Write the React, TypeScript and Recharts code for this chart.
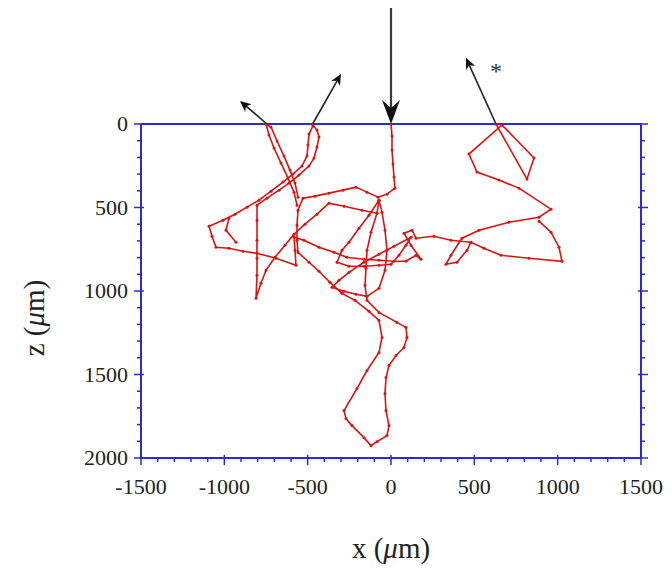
import React from 'react';
import { ScatterChart, Scatter, XAxis, YAxis, ReferenceLine, ReferenceDot, Label } from 'recharts';

// ---- data (x, z in µm) ----
const trackCenter = [
  { x: 0, z: 0 }, { x: 6, z: 72 }, { x: 6, z: 156 }, { x: 12, z: 240 }, { x: 18, z: 318 }, { x: 24, z: 384 },
  { x: -24, z: 420 }, { x: -78, z: 438 }, { x: -144, z: 408 }, { x: -210, z: 378 }, { x: -288, z: 396 },
  { x: -372, z: 414 }, { x: -456, z: 432 }, { x: -528, z: 444 }, { x: -558, z: 516 }, { x: -564, z: 606 },
  { x: -564, z: 696 }, { x: -558, z: 768 }, { x: -492, z: 828 }, { x: -432, z: 882 }, { x: -366, z: 948 },
  { x: -294, z: 1014 }, { x: -216, z: 1056 }, { x: -132, z: 1122 }, { x: -72, z: 1176 }, { x: -54, z: 1278 },
  { x: -72, z: 1368 }, { x: -144, z: 1476 }, { x: -204, z: 1584 }, { x: -282, z: 1716 }, { x: -270, z: 1764 },
  { x: -234, z: 1806 }, { x: -162, z: 1878 }, { x: -120, z: 1926 }, { x: -84, z: 1902 }, { x: -24, z: 1866 },
  { x: -12, z: 1806 }, { x: -30, z: 1716 }, { x: -36, z: 1614 }, { x: -30, z: 1518 }, { x: -12, z: 1446 },
  { x: 30, z: 1386 }, { x: 78, z: 1338 }, { x: 96, z: 1278 }, { x: 90, z: 1218 }, { x: 36, z: 1188 },
  { x: -72, z: 1128 }, { x: -144, z: 1056 }, { x: -156, z: 966 }, { x: -150, z: 864 }, { x: -144, z: 756 },
  { x: -120, z: 648 }, { x: -84, z: 534 }, { x: -72, z: 456 },
];

const trackLeftLoop = [
  { x: -564, z: 486 }, { x: -582, z: 408 }, { x: -618, z: 324 }, { x: -660, z: 234 }, { x: -702, z: 144 },
  { x: -732, z: 66 }, { x: -750, z: 0 }, { x: -720, z: 18 }, { x: -684, z: 102 }, { x: -642, z: 192 },
  { x: -606, z: 276 }, { x: -576, z: 354 }, { x: -558, z: 438 },
];

const trackLeftA = [
  { x: -474, z: 0 }, { x: -444, z: 36 }, { x: -432, z: 78 }, { x: -444, z: 138 }, { x: -462, z: 204 },
  { x: -492, z: 252 }, { x: -552, z: 306 }, { x: -612, z: 354 }, { x: -672, z: 396 }, { x: -744, z: 444 },
  { x: -804, z: 486 }, { x: -804, z: 576 }, { x: -804, z: 696 }, { x: -804, z: 804 }, { x: -804, z: 906 },
  { x: -810, z: 1044 }, { x: -780, z: 954 }, { x: -750, z: 876 }, { x: -696, z: 798 }, { x: -636, z: 726 },
  { x: -582, z: 660 }, { x: -516, z: 600 }, { x: -444, z: 540 }, { x: -372, z: 474 }, { x: -282, z: 492 },
  { x: -174, z: 516 }, { x: -84, z: 534 },
];

const trackLeftB = [
  { x: -468, z: 12 }, { x: -492, z: 60 }, { x: -498, z: 126 }, { x: -504, z: 192 }, { x: -534, z: 252 },
  { x: -588, z: 300 }, { x: -648, z: 348 }, { x: -720, z: 402 }, { x: -792, z: 456 }, { x: -864, z: 498 },
  { x: -936, z: 540 }, { x: -1008, z: 576 }, { x: -1092, z: 612 }, { x: -1074, z: 672 }, { x: -1050, z: 738 },
  { x: -972, z: 744 }, { x: -888, z: 762 }, { x: -804, z: 774 }, { x: -690, z: 804 }, { x: -570, z: 846 },
  { x: -576, z: 756 }, { x: -582, z: 678 }, { x: -522, z: 696 }, { x: -432, z: 738 }, { x: -342, z: 768 },
  { x: -264, z: 798 }, { x: -162, z: 810 }, { x: -72, z: 816 }, { x: 18, z: 822 }, { x: 90, z: 822 },
  { x: 150, z: 786 }, { x: 180, z: 810 }, { x: 120, z: 726 }, { x: 78, z: 654 }, { x: 126, z: 636 },
  { x: 150, z: 684 }, { x: 258, z: 672 }, { x: 360, z: 696 }, { x: 480, z: 708 },
];

const trackSpur = [
  { x: -972, z: 564 }, { x: -990, z: 636 }, { x: -930, z: 708 },
];

const trackCluster = [
  { x: -72, z: 456 }, { x: -132, z: 546 }, { x: -192, z: 624 }, { x: -252, z: 708 }, { x: -294, z: 756 },
  { x: -324, z: 828 }, { x: -252, z: 852 }, { x: -162, z: 852 }, { x: -72, z: 846 }, { x: 0, z: 840 },
  { x: 48, z: 786 }, { x: 90, z: 726 }, { x: 120, z: 678 }, { x: 18, z: 732 }, { x: -72, z: 780 },
  { x: -162, z: 828 }, { x: -252, z: 888 }, { x: -312, z: 936 }, { x: -354, z: 978 }, { x: -282, z: 1002 },
  { x: -210, z: 1020 }, { x: -144, z: 1032 }, { x: -72, z: 984 }, { x: -36, z: 876 }, { x: -24, z: 756 },
  { x: -36, z: 636 }, { x: -54, z: 528 }, { x: -72, z: 456 },
];

const trackRight = [
  { x: 630, z: 0 }, { x: 816, z: 330 }, { x: 858, z: 204 }, { x: 666, z: 6 }, { x: 468, z: 180 },
  { x: 516, z: 288 }, { x: 648, z: 336 }, { x: 768, z: 384 }, { x: 960, z: 510 }, { x: 888, z: 558 },
  { x: 708, z: 588 }, { x: 528, z: 636 }, { x: 426, z: 684 }, { x: 360, z: 786 }, { x: 330, z: 840 },
  { x: 396, z: 828 }, { x: 456, z: 756 }, { x: 480, z: 708 }, { x: 558, z: 744 }, { x: 660, z: 786 },
  { x: 828, z: 804 }, { x: 1026, z: 822 }, { x: 1008, z: 738 }, { x: 960, z: 648 }, { x: 888, z: 582 },
];

const tracks = [trackCenter, trackLeftLoop, trackLeftA, trackLeftB, trackSpur, trackCluster, trackRight];

// arrows: [start, end] in data coordinates
const entryArrow = [{ x: 0, z: -760 }, { x: 0, z: 0 }];
const exitArrows = [
  [{ x: -744, z: 0 }, { x: -906, z: -138 }],
  [{ x: -470, z: 0 }, { x: -300, z: -300 }],
  [{ x: 630, z: 0 }, { x: 450, z: -396 }],
];
const starMark = { x: 630, z: -318, text: '*' };

const xTicks = [-1500, -1400, -1300, -1200, -1100, -1000, -900, -800, -700, -600, -500, -400, -300, -200, -100, 0,
  100, 200, 300, 400, 500, 600, 700, 800, 900, 1000, 1100, 1200, 1300, 1400, 1500];
const xLabelTicks = [-1500, -1000, -500, 0, 500, 1000, 1500];
const zTicks = [0, 100, 200, 300, 400, 500, 600, 700, 800, 900, 1000, 1100, 1200, 1300, 1400, 1500, 1600, 1700, 1800, 1900, 2000];
const zLabelTicks = [0, 500, 1000, 1500, 2000];

// ---- style ----
const BLUE = '#2a2ad6';
const RED = '#dc1212';
const FONT = '"Liberation Serif", "Times New Roman", serif';
const TICK_FS = 22;
const TITLE_FS = 29;

const BottomTick = (p: any) => {
  const { x, y, payload } = p;
  const major = xLabelTicks.includes(payload.value);
  return (
    <g>
      <line x1={x} x2={x} y1={major ? y - 3 : y} y2={major ? y + 7 : y + 4} stroke={BLUE} strokeWidth={1.5} />
      {major && (
        <text x={x} y={y + 36} textAnchor="middle" fontFamily={FONT} fontSize={TICK_FS} fill="#222">
          {payload.value}
        </text>
      )}
    </g>
  );
};
const TopTick = (p: any) => {
  const { x, y, payload } = p;
  const major = xLabelTicks.includes(payload.value);
  return <line x1={x} x2={x} y1={major ? y + 3 : y} y2={major ? y - 7 : y - 4} stroke={BLUE} strokeWidth={1.5} />;
};
const LeftTick = (p: any) => {
  const { x, y, payload } = p;
  const major = zLabelTicks.includes(payload.value);
  return (
    <g>
      <line y1={y} y2={y} x1={major ? x + 3 : x} x2={major ? x - 7 : x - 4} stroke={BLUE} strokeWidth={1.5} />
      {major && (
        <text x={x - 13} y={y + 7} textAnchor="end" fontFamily={FONT} fontSize={TICK_FS} fill="#222">
          {payload.value}
        </text>
      )}
    </g>
  );
};
const RightTick = (p: any) => {
  const { x, y, payload } = p;
  const major = zLabelTicks.includes(payload.value);
  return <line y1={y} y2={y} x1={major ? x - 3 : x} x2={major ? x + 7 : x + 4} stroke={BLUE} strokeWidth={1.5} />;
};

const Dot = (p: any) => <circle cx={p.cx} cy={p.cy} r={1.5} fill={RED} />;

const makeArrow = (L: number, W: number, N: number, color: string, sw: number) => (p: any) => {
  const { x1, y1, x2, y2 } = p;
  if ([x1, y1, x2, y2].some((v) => typeof v !== 'number' || isNaN(v))) return <g />;
  const dx = x2 - x1;
  const dy = y2 - y1;
  const len = Math.hypot(dx, dy) || 1;
  const ux = dx / len;
  const uy = dy / len;
  const px = -uy;
  const py = ux;
  const bx = x2 - ux * L;
  const by = y2 - uy * L;
  const nx = x2 - ux * (L - N);
  const ny = y2 - uy * (L - N);
  const pts = `${x2},${y2} ${bx + px * W},${by + py * W} ${nx},${ny} ${bx - px * W},${by - py * W}`;
  return (
    <g>
      <line x1={x1} y1={y1} x2={nx} y2={ny} stroke={color} strokeWidth={sw} />
      <polygon points={pts} fill="#111" />
    </g>
  );
};

const bigArrow = makeArrow(24, 9, 8, '#3a3a3a', 2.2);
const smallArrow = makeArrow(11, 5, 3, '#222', 1.6);

const XTitle = () => (
  <text x={391} y={558} textAnchor="middle" fontFamily={FONT} fontSize={TITLE_FS} fill="#222">
    x (<tspan fontStyle="italic">μ</tspan>m)
  </text>
);
const YTitle = () => (
  <text
    x={0}
    y={0}
    transform="translate(44,318) rotate(-90)"
    textAnchor="middle"
    fontFamily={FONT}
    fontSize={TITLE_FS}
    fill="#222"
  >
    z (<tspan fontStyle="italic">μ</tspan>m)
  </text>
);

export default function App() {
  return (
    <div style={{ margin: '-8px', width: 672, height: 578, background: '#fff' }}>
      <ScatterChart width={672} height={578} margin={{ top: 114, right: 21, bottom: 90, left: 81 }}>
        <XAxis
          xAxisId={0}
          dataKey="x"
          type="number"
          domain={[-1500, 1500]}
          ticks={xTicks}
          interval={0}
          tickSize={0}
          tickMargin={0}
          tick={<BottomTick />}
          axisLine={{ stroke: BLUE, strokeWidth: 2 }}
          height={30}
          allowDataOverflow
        >
          <Label content={<XTitle />} />
        </XAxis>
        <XAxis
          xAxisId="top"
          orientation="top"
          type="number"
          domain={[-1500, 1500]}
          ticks={xTicks}
          interval={0}
          tickSize={0}
          tickMargin={0}
          tick={<TopTick />}
          axisLine={{ stroke: BLUE, strokeWidth: 2 }}
          height={10}
          allowDataOverflow
        />
        <YAxis
          yAxisId={0}
          dataKey="z"
          type="number"
          reversed
          domain={[0, 2000]}
          ticks={zTicks}
          interval={0}
          tickSize={0}
          tickMargin={0}
          tick={<LeftTick />}
          axisLine={{ stroke: BLUE, strokeWidth: 2 }}
          width={60}
          allowDataOverflow
        >
          <Label content={<YTitle />} />
        </YAxis>
        <YAxis
          yAxisId="right"
          orientation="right"
          type="number"
          reversed
          domain={[0, 2000]}
          ticks={zTicks}
          interval={0}
          tickSize={0}
          tickMargin={0}
          tick={<RightTick />}
          axisLine={{ stroke: BLUE, strokeWidth: 2 }}
          width={10}
          allowDataOverflow
        />
        {tracks.map((t, i) => (
          <Scatter
            key={i}
            data={t}
            xAxisId={0}
            yAxisId={0}
            line={{ stroke: RED, strokeWidth: 1.6 }}
            lineType="joint"
            shape={<Dot />}
            isAnimationActive={false}
          />
        ))}
        <ReferenceLine
          xAxisId={0}
          yAxisId={0}
          segment={[{ x: entryArrow[0].x, y: entryArrow[0].z }, { x: entryArrow[1].x, y: entryArrow[1].z }]}
          ifOverflow="visible"
          shape={bigArrow}
        />
        {exitArrows.map((a, i) => (
          <ReferenceLine
            key={i}
            xAxisId={0}
            yAxisId={0}
            segment={[{ x: a[0].x, y: a[0].z }, { x: a[1].x, y: a[1].z }]}
            ifOverflow="visible"
            shape={smallArrow}
          />
        ))}
        <ReferenceDot
          xAxisId={0}
          yAxisId={0}
          x={starMark.x}
          y={starMark.z}
          r={0}
          ifOverflow="visible"
          shape={(p: any) => (
            <text x={p.cx} y={p.cy + 8} textAnchor="middle" fontFamily={FONT} fontSize={24} fill="#333">
              {starMark.text}
            </text>
          )}
        />
      </ScatterChart>
    </div>
  );
}
